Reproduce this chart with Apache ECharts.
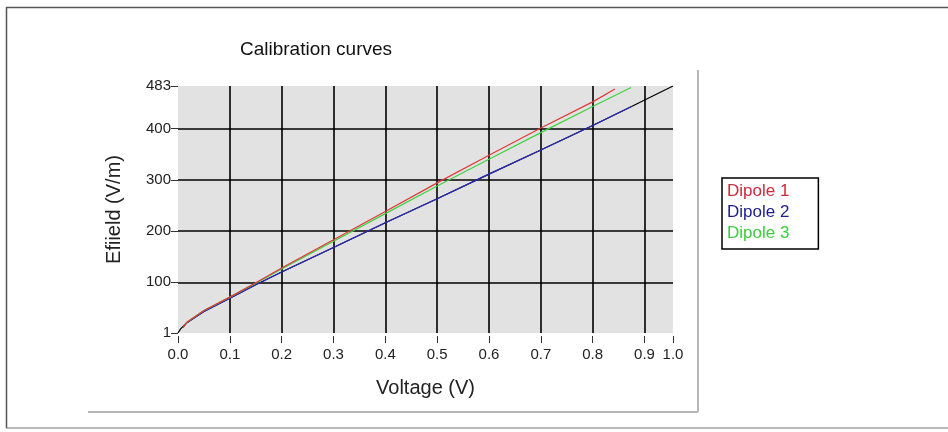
<!DOCTYPE html>
<html>
<head>
<meta charset="utf-8">
<script src="https://cdn.jsdelivr.net/npm/echarts@6/dist/echarts.min.js"></script>
<style>
  html, body { margin: 0; padding: 0; background: #ffffff; }
  #chart { width: 948px; height: 432px; }
</style>
</head>
<body>
<div id="chart"></div>
<script>
// Calibration data: voltage (V) against field strength (V/m) for each dipole
const dipole1Volt = [0.01, 0.017, 0.05, 0.10, 0.15, 0.20, 0.30, 0.40, 0.50, 0.60, 0.70, 0.80, 0.843];
const dipole1Field = [12, 22, 45, 71, 99, 128, 183, 238, 294, 348, 401, 452, 477];

const dipole2Volt = [0.01, 0.017, 0.05, 0.10, 0.15, 0.20, 0.30, 0.40, 0.50, 0.60, 0.70, 0.80, 0.875];
const dipole2Field = [12, 21, 43, 69, 95, 120, 168, 216, 263, 311, 358, 406, 443];

const dipole3Volt = [0.01, 0.017, 0.05, 0.10, 0.15, 0.20, 0.30, 0.40, 0.50, 0.60, 0.70, 0.80, 0.874];
const dipole3Field = [12, 22, 45, 71, 98, 126, 180, 234, 288, 340, 392, 443, 480];

// Reference trace drawn underneath the dipole curves
const refVolt = [0, 0.005, 0.017, 0.05, 0.10, 0.15, 0.20, 0.30, 0.40, 0.50, 0.60, 0.70, 0.80, 0.875, 0.955];
const refField = [1, 9, 21, 43, 69, 95, 120, 168, 216, 263, 311, 358, 406, 443, 483];

const seriesNames = ['Dipole 1', 'Dipole 2', 'Dipole 3'];

// Axis ticks and their labels
const xTicks = [0, 0.1, 0.2, 0.3, 0.4, 0.5, 0.6, 0.7, 0.8, 0.9, 0.955];
const xTickLabels = ['0.0', '0.1', '0.2', '0.3', '0.4', '0.5', '0.6', '0.7', '0.8', '0.9', '1.0'];
const yTicks = [1, 100, 200, 300, 400, 483];
const yTickLabels = ['1', '100', '200', '300', '400', '483'];

const colors = { d1: '#e03838', d2: '#2a2ac0', d3: '#3ed23e', ref: '#000000' };
const legendColors = ['#d0283c', '#1c1c8c', '#3ccc3c'];

const pairs = (xs, ys) => xs.map((x, i) => [x, ys[i]]);
const labelFor = (ticks, labels) => v => {
  const i = ticks.findIndex(t => Math.abs(t - v) < 1e-6);
  return i >= 0 ? labels[i] : '';
};

const FONT = 'Liberation Sans, Arial, sans-serif';

const chart = echarts.init(document.getElementById('chart'), null, { renderer: 'canvas' });

const lineSeries = (name, data, color, z) => ({
  name: name,
  type: 'line',
  data: data,
  showSymbol: false,
  symbol: 'none',
  z: z,
  lineStyle: { color: color, width: 1.2 },
  itemStyle: { color: color },
  emphasis: { disabled: true }
});

chart.setOption({
  animation: false,
  backgroundColor: '#ffffff',
  title: {
    text: 'Calibration curves',
    left: 311,
    top: 35,
    textAlign: 'center',
    textStyle: { fontFamily: FONT, fontSize: 19, fontWeight: 'normal', color: '#111' }
  },
  legend: {
    data: seriesNames.map((n, i) => ({ name: n, textStyle: { color: legendColors[i] } })),
    orient: 'vertical',
    left: 722,
    top: 178,
    icon: 'rect',
    itemWidth: 0,
    itemHeight: 17,
    itemGap: 4,
    padding: [5, 29, 7, 0],
    borderColor: '#000',
    borderWidth: 1.5,
    selectedMode: false,
    itemStyle: { opacity: 0 },
    textStyle: { fontFamily: FONT, fontSize: 17 }
  },
  grid: {
    left: 178,
    right: 275,
    top: 86,
    bottom: 99,
    show: true,
    backgroundColor: '#e2e2e2',
    borderWidth: 0
  },
  xAxis: {
    type: 'value',
    min: 0,
    max: 0.955,
    offset: 3,
    name: 'Voltage (V)',
    nameLocation: 'middle',
    nameGap: 42,
    nameTextStyle: { fontFamily: FONT, fontSize: 20, color: '#222' },
    axisLine: { show: false },
    axisTick: { show: true, length: 7, customValues: xTicks, lineStyle: { color: '#333', width: 1 } },
    axisLabel: {
      customValues: xTicks,
      formatter: labelFor(xTicks, xTickLabels),
      fontFamily: FONT, fontSize: 15, color: '#222', margin: 11,
      showMinLabel: true, showMaxLabel: true, hideOverlap: false
    },
    splitLine: { show: true, showMinLine: false, showMaxLine: false, lineStyle: { color: '#000', width: 1.6 } }
  },
  yAxis: {
    type: 'value',
    min: 1,
    max: 483,
    offset: 3,
    name: 'Efiield (V/m)',
    nameLocation: 'middle',
    nameGap: 51,
    nameTextStyle: { fontFamily: FONT, fontSize: 20, color: '#222' },
    axisLine: { show: false },
    axisTick: { show: true, length: 7, customValues: yTicks, lineStyle: { color: '#333', width: 1 } },
    axisLabel: {
      customValues: yTicks,
      formatter: labelFor(yTicks, yTickLabels),
      fontFamily: FONT, fontSize: 15, color: '#222', margin: 4,
      showMinLabel: true, showMaxLabel: true, hideOverlap: false
    },
    splitLine: { show: true, showMinLine: false, showMaxLine: false, lineStyle: { color: '#000', width: 1.6 } }
  },
  series: [
    Object.assign(lineSeries('reference', pairs(refVolt, refField), colors.ref, 1), { legendHoverLink: false }),
    lineSeries(seriesNames[1], pairs(dipole2Volt, dipole2Field), colors.d2, 2),
    lineSeries(seriesNames[2], pairs(dipole3Volt, dipole3Field), colors.d3, 3),
    lineSeries(seriesNames[0], pairs(dipole1Volt, dipole1Field), colors.d1, 4)
  ],
  graphic: [
    // outer window frame
    { type: 'line', silent: true, shape: { x1: 6, y1: 7.5, x2: 948, y2: 7.5 }, style: { stroke: '#555', lineWidth: 1.5 } },
    { type: 'line', silent: true, shape: { x1: 6.5, y1: 7, x2: 6.5, y2: 428 }, style: { stroke: '#555', lineWidth: 1.5 } },
    { type: 'line', silent: true, shape: { x1: 6, y1: 428, x2: 948, y2: 428 }, style: { stroke: '#777', lineWidth: 1 } },
    // raised panel edge around the graph
    { type: 'line', silent: true, shape: { x1: 698, y1: 70, x2: 698, y2: 412 }, style: { stroke: '#b8b8b8', lineWidth: 2 } },
    { type: 'line', silent: true, shape: { x1: 88, y1: 412, x2: 698, y2: 412 }, style: { stroke: '#b8b8b8', lineWidth: 2 } }
  ]
});
</script>
</body>
</html>
